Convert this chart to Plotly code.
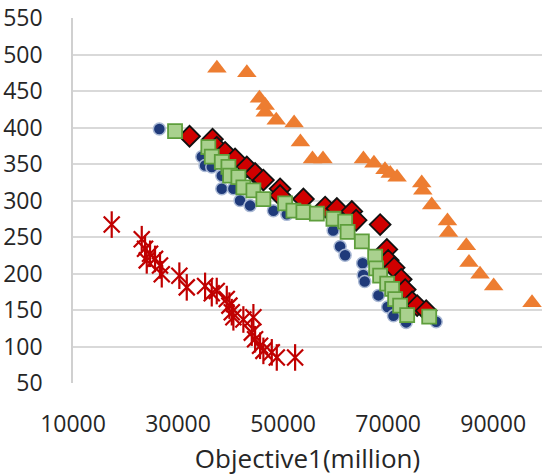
import plotly.graph_objects as go

# Series 1: blue circles
blue_x = [26440, 34520, 35150, 36420, 38330, 38330, 40540, 41810, 43720, 48160, 50710,
          59530, 60860, 61810, 65150, 65250, 65540, 68160, 69910, 71020, 73440, 79150]
blue_y = [398, 360, 348, 346, 334, 316, 316, 300, 293, 286, 281,
          259, 237, 225, 214, 198, 189, 170, 154, 142, 133, 134]

# Series 2: red diamonds
red_x = [32190, 36570, 37370, 38960, 40860, 43090, 44670, 46250, 49430, 49430, 53870,
         58010, 60240, 63090, 63910, 68480, 69760, 70010, 71150, 72490, 73250, 74580,
         75530, 77250]
red_y = [388, 384, 373, 366, 357, 346, 337, 328, 316, 307, 302,
         291, 289, 285, 273, 267, 233, 218, 208, 192, 178, 161,
         156, 149]

# Series 3: green squares
green_x = [29430, 35770, 36420, 38330, 39590, 39910, 41490, 42440, 44350, 46250, 50390,
           51970, 53870, 56430, 59590, 61820, 62290, 65000, 67530, 67720, 68480, 69820,
           70770, 71340, 72290, 73630, 77820]
green_y = [395, 373, 360, 353, 346, 334, 332, 318, 314, 302, 296,
           286, 284, 282, 275, 271, 257, 244, 223, 207, 197, 186,
           179, 165, 156, 143, 141]

# Series 4: orange triangles
tri_x = [37400, 43100, 45500, 46600, 46600, 48700, 52100, 53300, 55600, 57600, 65300,
         67300, 69400, 70400, 71700, 76400, 76600, 78300, 81300, 81500, 84900, 85400,
         87500, 90100, 97400]
tri_y = [481, 475, 440, 430, 421, 410, 406, 380, 357, 357, 357,
         351, 342, 337, 332, 324, 314, 294, 272, 256, 238, 215,
         199, 183, 160]

# Series 5: red asterisks
star_x = [17370, 23090, 23720, 24670, 24040, 25620, 26570, 26900, 30250, 31660, 35150,
          36420, 37370, 39280, 39780, 40230, 40540, 42440, 44350, 44040, 44670, 45620,
          46250, 47850, 48800, 52290]
star_y = [267, 247, 234, 227, 218, 220, 211, 199, 197, 181, 183,
          173, 176, 165, 156, 147, 140, 137, 140, 119, 110, 101,
          94, 92, 85, 85]

x_ticks = [10000, 30000, 50000, 70000, 90000]
y_ticks = [50, 100, 150, 200, 250, 300, 350, 400, 450, 500, 550]

STAR = "#C00000"
fig = go.Figure()
# Excel-style star marker: an X with a vertical stroke
fig.add_trace(go.Scatter(x=star_x, y=star_y, mode="markers",
                         marker=dict(symbol="x-thin-open", size=16, color=STAR,
                                     line=dict(color=STAR, width=2.2))))
fig.add_trace(go.Scatter(x=star_x, y=star_y, mode="markers",
                         marker=dict(symbol="line-ns-open", size=19, color=STAR,
                                     line=dict(color=STAR, width=2.2))))
fig.add_trace(go.Scatter(x=tri_x, y=tri_y, mode="markers",
                         marker=dict(symbol="triangle-up", size=17, color="#ED7D31",
                                     line=dict(width=0))))
fig.add_trace(go.Scatter(x=blue_x, y=blue_y, mode="markers",
                         marker=dict(symbol="circle", size=12, color="#1F3A7A",
                                     line=dict(color="#A9B8D4", width=1.5))))
fig.add_trace(go.Scatter(x=red_x, y=red_y, mode="markers",
                         marker=dict(symbol="diamond", size=16, color="#D00000",
                                     line=dict(color="#111111", width=1.8))))
fig.add_trace(go.Scatter(x=green_x, y=green_y, mode="markers",
                         marker=dict(symbol="square", size=14, color="#A9D18E",
                                     line=dict(color="#5E9E3C", width=1.8))))

fig.update_layout(
    width=542, height=476,
    margin=dict(l=73, r=0, t=18, b=93),
    plot_bgcolor="white", paper_bgcolor="white",
    showlegend=False,
    font=dict(family="Open Sans", size=23, color="#262626"),
    xaxis=dict(range=[10000, 99300], tickvals=x_ticks, ticktext=[str(v) for v in x_ticks],
               showgrid=False, zeroline=False, showline=False,
               ticks="", ticklabelstandoff=25,
               title=dict(text="Objective1(million)", standoff=18,
                          font=dict(size=26))),
    yaxis=dict(range=[50, 550], tickvals=y_ticks, ticktext=[str(v) for v in y_ticks],
               showgrid=True, gridcolor="#D9D9D9", gridwidth=1.5, zeroline=False,
               showline=True, linecolor="#D0D0D0", linewidth=1.5,
               ticks="", ticklabelstandoff=24),
)
fig.write_html("out.html")
